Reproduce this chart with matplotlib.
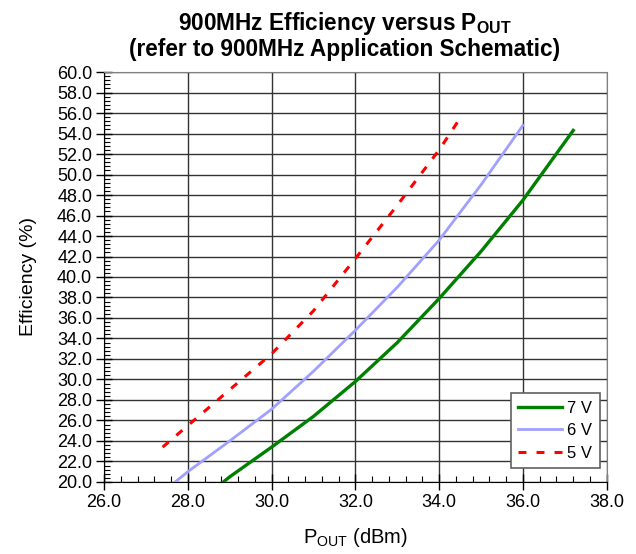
import matplotlib.pyplot as plt
from matplotlib.ticker import MultipleLocator, FormatStrFormatter

plt.rcParams['font.family'] = ['Liberation Sans', 'DejaVu Sans']
plt.rcParams['mathtext.fontset'] = 'custom'
plt.rcParams['mathtext.rm'] = 'Liberation Sans'
plt.rcParams['mathtext.bf'] = 'Liberation Sans:bold'

pout_7v = [28.85, 29.0, 30.0, 31.0, 32.0, 33.0, 34.0, 35.0, 36.0, 37.2]
eff_7v = [20.0, 20.5, 23.4, 26.4, 29.8, 33.6, 37.9, 42.5, 47.5, 54.3]

pout_6v = [27.7, 28.0, 29.0, 30.0, 31.0, 32.0, 33.0, 34.0, 35.0, 36.0]
eff_6v = [20.0, 21.0, 24.0, 27.1, 30.8, 34.8, 39.0, 43.6, 49.0, 54.8]

pout_5v = [27.4, 28.0, 29.0, 30.0, 31.0, 32.0, 33.0, 34.0, 34.5]
eff_5v = [23.4, 25.5, 29.0, 32.5, 36.7, 41.8, 47.0, 52.4, 55.5]

fig = plt.figure(figsize=(6.36, 5.54), dpi=100)
ax = fig.add_axes([0.1635, 0.130, 0.7905, 0.740])

ax.plot(pout_7v, eff_7v, color='#008000', lw=2.4, label='7 V', zorder=3)
ax.plot(pout_6v, eff_6v, color='#a0a0ff', lw=2.0, label='6 V', zorder=3)
ax.plot(pout_5v, eff_5v, color='#ff0000', lw=2.2, ls=(0, (2.6, 3.3)), label='5 V', zorder=3)

ax.set_xlim(26, 38)
ax.set_ylim(20, 60)
ax.xaxis.set_major_locator(MultipleLocator(2))
ax.xaxis.set_minor_locator(MultipleLocator(0.4))
ax.yaxis.set_major_locator(MultipleLocator(2))
ax.yaxis.set_minor_locator(MultipleLocator(0.4))
ax.xaxis.set_major_formatter(FormatStrFormatter('%.1f'))
ax.yaxis.set_major_formatter(FormatStrFormatter('%.1f'))

ax.grid(True, which='major', color='#333333', lw=1)
ax.tick_params(which='major', direction='inout', length=11, labelsize=13, width=1, pad=3)
ax.tick_params(which='minor', direction='in', length=4, width=0.8)
for sp in ax.spines.values():
    sp.set_color('#808080')
ax.spines['left'].set_color('black')
ax.spines['bottom'].set_color('black')

ax.set_xlabel('P$_{\\mathrm{OUT}}$ (dBm)', fontsize=14.5, labelpad=11)
ax.set_ylabel('Efficiency (%)', fontsize=14, labelpad=14)

fig.text(0.542, 0.946, '900MHz Efficiency versus P$_{\\mathbf{OUT}}$', ha='center', va='baseline',
         fontsize=16.3, fontweight='bold')
fig.text(0.542, 0.899, '(refer to 900MHz Application Schematic)', ha='center', va='baseline',
         fontsize=16.3, fontweight='bold')

leg = ax.legend(loc='lower right', bbox_to_anchor=(0.986, 0.034), borderaxespad=0,
                fontsize=12, fancybox=False, framealpha=1, edgecolor='#606060',
                handlelength=2.65, handletextpad=0.3, borderpad=0.45, labelspacing=0.45)
leg.get_frame().set_linewidth(1.2)

fig.savefig('out.png', dpi=100)
